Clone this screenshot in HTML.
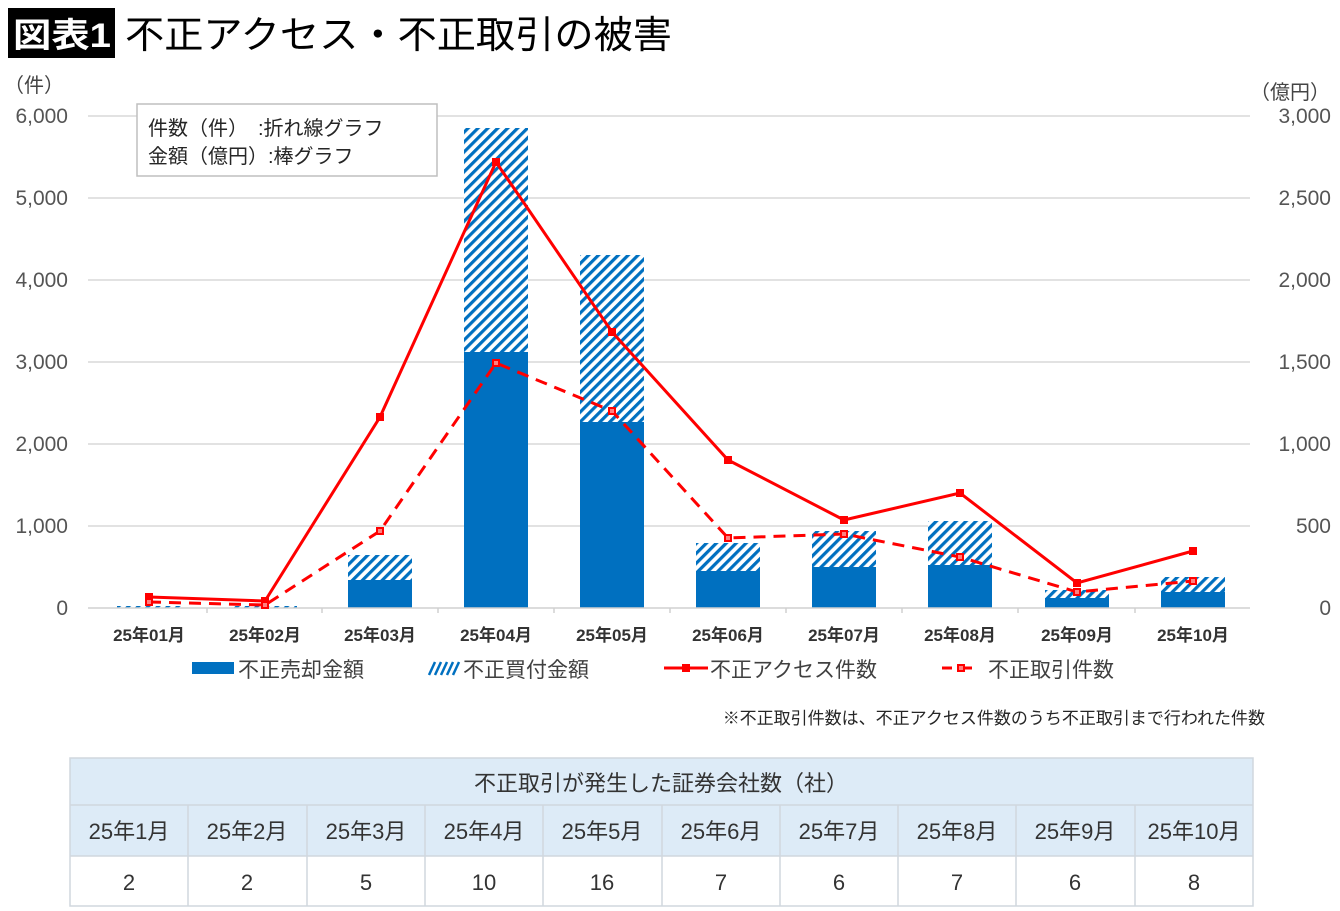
<!DOCTYPE html>
<html><head><meta charset="utf-8">
<style>
body{margin:0;width:1340px;height:911px;background:#fff;overflow:hidden;font-family:"Liberation Sans","Noto Sans CJK JP",sans-serif;}
svg{position:absolute;left:0;top:0}
text{font-family:"Liberation Sans","Noto Sans CJK JP",sans-serif;}
</style></head><body>
<svg width="1340" height="911" viewBox="0 0 1340 911">
<defs>
<pattern id="h" patternUnits="userSpaceOnUse" width="7" height="7" patternTransform="rotate(45)">
<rect width="7" height="7" fill="#fff"/><rect x="0" y="0" width="3.2" height="7" fill="#0070C0"/>
</pattern>
</defs>
<!-- title -->
<rect x="8" y="8" width="107" height="50" fill="#000"/>
<text x="13" y="47" font-size="34" fill="#fff" font-weight="bold" textLength="98" lengthAdjust="spacingAndGlyphs">図表1</text>
<text x="125" y="48" font-size="38" fill="#000" textLength="547" lengthAdjust="spacingAndGlyphs">不正アクセス・不正取引の被害</text>
<!-- axis units -->
<text x="4" y="92" font-size="20" fill="#444">（件）</text>
<text x="1250" y="99" font-size="20" fill="#444">（億円）</text>
<!-- gridlines -->
<g stroke="#d9d9d9" stroke-width="1.5">
<line x1="88" y1="116" x2="1250" y2="116"/>
<line x1="88" y1="198" x2="1250" y2="198"/>
<line x1="88" y1="280" x2="1250" y2="280"/>
<line x1="88" y1="362" x2="1250" y2="362"/>
<line x1="88" y1="444" x2="1250" y2="444"/>
<line x1="88" y1="526" x2="1250" y2="526"/>
</g>
<g font-size="21" fill="#555" text-anchor="end">
<text x="68" y="123">6,000</text><text x="68" y="205">5,000</text><text x="68" y="287">4,000</text>
<text x="68" y="369">3,000</text><text x="68" y="451">2,000</text><text x="68" y="533">1,000</text><text x="68" y="615">0</text>
<text x="1331" y="123">3,000</text><text x="1331" y="205">2,500</text><text x="1331" y="287">2,000</text>
<text x="1331" y="369">1,500</text><text x="1331" y="451">1,000</text><text x="1331" y="533">500</text><text x="1331" y="615">0</text>
</g>
<!-- bars -->
<g>
<rect x="117" y="606" width="64" height="2" fill="url(#h)"/>
<rect x="233" y="606" width="64" height="2" fill="url(#h)"/>
<rect x="348" y="555" width="64" height="25" fill="url(#h)"/><rect x="348" y="580" width="64" height="28" fill="#0070C0"/>
<rect x="464" y="128" width="64" height="224" fill="url(#h)"/><rect x="464" y="352" width="64" height="256" fill="#0070C0"/>
<rect x="580" y="255" width="64" height="167" fill="url(#h)"/><rect x="580" y="422" width="64" height="186" fill="#0070C0"/>
<rect x="696" y="543" width="64" height="28" fill="url(#h)"/><rect x="696" y="571" width="64" height="37" fill="#0070C0"/>
<rect x="812" y="531" width="64" height="36" fill="url(#h)"/><rect x="812" y="567" width="64" height="41" fill="#0070C0"/>
<rect x="928" y="521" width="64" height="44" fill="url(#h)"/><rect x="928" y="565" width="64" height="43" fill="#0070C0"/>
<rect x="1045" y="590" width="64" height="8" fill="url(#h)"/><rect x="1045" y="598" width="64" height="10" fill="#0070C0"/>
<rect x="1161" y="577" width="64" height="15" fill="url(#h)"/><rect x="1161" y="592" width="64" height="16" fill="#0070C0"/>
</g>
<!-- x axis -->
<line x1="88" y1="608" x2="1250" y2="608" stroke="#d0d0d0" stroke-width="1.5"/>
<g stroke="#d0d0d0" stroke-width="1.5">
<line x1="207" y1="608" x2="207" y2="613"/><line x1="322" y1="608" x2="322" y2="613"/><line x1="438" y1="608" x2="438" y2="613"/>
<line x1="554" y1="608" x2="554" y2="613"/><line x1="670" y1="608" x2="670" y2="613"/><line x1="786" y1="608" x2="786" y2="613"/>
<line x1="902" y1="608" x2="902" y2="613"/><line x1="1018" y1="608" x2="1018" y2="613"/><line x1="1135" y1="608" x2="1135" y2="613"/>
</g>
<g font-size="17" fill="#333" text-anchor="middle" font-weight="bold">
<text x="149" y="641">25年01月</text><text x="265" y="641">25年02月</text><text x="380" y="641">25年03月</text>
<text x="496" y="641">25年04月</text><text x="612" y="641">25年05月</text><text x="728" y="641">25年06月</text>
<text x="844" y="641">25年07月</text><text x="960" y="641">25年08月</text><text x="1077" y="641">25年09月</text><text x="1193" y="641">25年10月</text>
</g>
<!-- lines -->
<polyline fill="none" stroke="#FF0000" stroke-width="3" points="149,597 265,601 380,417 496,162 612,332 728,460 844,520 960,493 1077,583 1193,551"/>
<g fill="#FF0000">
<rect x="145" y="593" width="8" height="8"/><rect x="261" y="597" width="8" height="8"/><rect x="376" y="413" width="8" height="8"/>
<rect x="492" y="158" width="8" height="8"/><rect x="608" y="328" width="8" height="8"/><rect x="724" y="456" width="8" height="8"/>
<rect x="840" y="516" width="8" height="8"/><rect x="956" y="489" width="8" height="8"/><rect x="1073" y="579" width="8" height="8"/><rect x="1189" y="547" width="8" height="8"/>
</g>
<polyline fill="none" stroke="#FF0000" stroke-width="3" stroke-dasharray="12,8" points="149,602 265,605 380,531 496,363 612,411 728,538 844,534 960,557 1077,592 1193,581"/>
<g fill="#FF8080" stroke="#FF0000" stroke-width="2">
<rect x="146" y="599" width="6" height="6"/><rect x="262" y="602" width="6" height="6"/><rect x="377" y="528" width="6" height="6"/>
<rect x="493" y="360" width="6" height="6"/><rect x="609" y="408" width="6" height="6"/><rect x="725" y="535" width="6" height="6"/>
<rect x="841" y="531" width="6" height="6"/><rect x="957" y="554" width="6" height="6"/><rect x="1074" y="589" width="6" height="6"/><rect x="1190" y="578" width="6" height="6"/>
</g>
<!-- info box -->
<rect x="137" y="104" width="300" height="72" fill="#fff" stroke="#bfbfbf" stroke-width="1.5"/>
<text x="148" y="135" font-size="20" fill="#262626">件数（件）　:折れ線グラフ</text>
<text x="148" y="163" font-size="20" fill="#262626">金額（億円）:棒グラフ</text>
<!-- legend -->
<rect x="192" y="662" width="42" height="12" fill="#0070C0"/>
<text x="238" y="677" font-size="21" fill="#404040">不正売却金額</text>
<g stroke="#0070C0" stroke-width="2.5"><line x1="429" y1="675" x2="435" y2="662"/><line x1="435" y1="675" x2="441" y2="662"/><line x1="441" y1="675" x2="447" y2="662"/><line x1="447" y1="675" x2="453" y2="662"/><line x1="453" y1="675" x2="459" y2="662"/></g>
<text x="463" y="677" font-size="21" fill="#404040">不正買付金額</text>
<line x1="664" y1="668" x2="708" y2="668" stroke="#FF0000" stroke-width="3"/><rect x="682" y="664" width="8" height="8" fill="#FF0000"/>
<text x="710" y="677" font-size="21" fill="#404040">不正アクセス件数</text>
<line x1="942" y1="668" x2="952" y2="668" stroke="#FF0000" stroke-width="3"/><line x1="960" y1="668" x2="972" y2="668" stroke="#FF0000" stroke-width="3"/>
<rect x="958" y="665" width="6" height="6" fill="#FF8080" stroke="#FF0000" stroke-width="2"/>
<text x="988" y="677" font-size="21" fill="#404040">不正取引件数</text>
<text x="1265" y="724" font-size="17" fill="#262626" text-anchor="end">※不正取引件数は、不正アクセス件数のうち不正取引まで行われた件数</text>
<!-- table -->
<rect x="70" y="758" width="1183" height="98" fill="#DDEBF7"/>
<rect x="70" y="856" width="1183" height="50" fill="#fff"/>
<g stroke="#d0d7de" stroke-width="1.5" fill="none">
<rect x="70" y="758" width="1183" height="148"/>
<line x1="70" y1="805" x2="1253" y2="805"/><line x1="70" y1="856" x2="1253" y2="856"/>
<line x1="188" y1="805" x2="188" y2="906"/><line x1="307" y1="805" x2="307" y2="906"/><line x1="425" y1="805" x2="425" y2="906"/>
<line x1="543" y1="805" x2="543" y2="906"/><line x1="662" y1="805" x2="662" y2="906"/><line x1="780" y1="805" x2="780" y2="906"/>
<line x1="898" y1="805" x2="898" y2="906"/><line x1="1016" y1="805" x2="1016" y2="906"/><line x1="1135" y1="805" x2="1135" y2="906"/>
</g>
<text x="661" y="791" font-size="22" fill="#333" text-anchor="middle">不正取引が発生した証券会社数（社）</text>
<g font-size="22" fill="#333" text-anchor="middle">
<text x="129" y="839">25年1月</text><text x="247" y="839">25年2月</text><text x="366" y="839">25年3月</text><text x="484" y="839">25年4月</text>
<text x="602" y="839">25年5月</text><text x="721" y="839">25年6月</text><text x="839" y="839">25年7月</text><text x="957" y="839">25年8月</text>
<text x="1075" y="839">25年9月</text><text x="1194" y="839">25年10月</text>
<text x="129" y="890">2</text><text x="247" y="890">2</text><text x="366" y="890">5</text><text x="484" y="890">10</text>
<text x="602" y="890">16</text><text x="721" y="890">7</text><text x="839" y="890">6</text><text x="957" y="890">7</text>
<text x="1075" y="890">6</text><text x="1194" y="890">8</text>
</g>
</svg>
</body></html>
